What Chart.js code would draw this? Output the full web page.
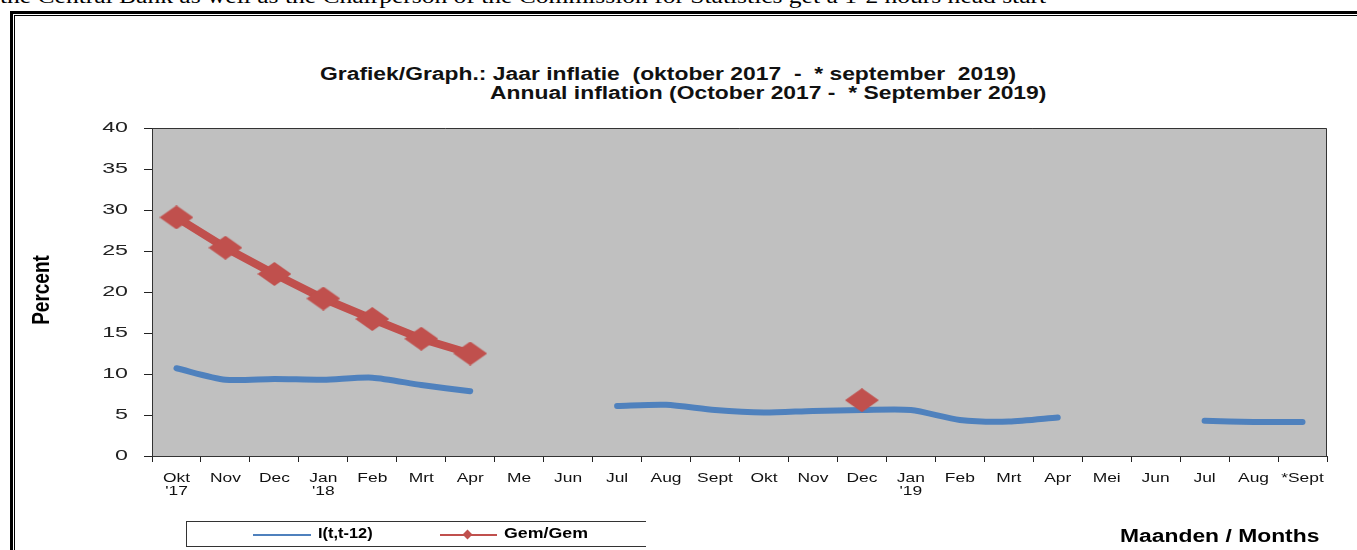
<!DOCTYPE html>
<html>
<head>
<meta charset="utf-8">
<script src="https://cdn.jsdelivr.net/npm/chart.js@4/dist/chart.umd.min.js"></script>
<style>
  html, body { margin: 0; padding: 0; background: #fff; overflow: hidden; }
  body { width: 1357px; height: 550px; position: relative; }
  .abs { position: absolute; white-space: pre; transform-origin: 0 50%; }
  #topline { left: 0; top: -17px; font: 22px "Liberation Serif", "Times New Roman", serif; color: #000; transform: scaleX(1.16); }
  #frameOuter { left: 10px; top: 11px; width: 1400px; height: 600px; border-left: 3px solid #000; border-top: 3px solid #000; }
  #frameInner { left: 14px; top: 15px; width: 1400px; height: 600px; border-left: 1px solid #000; border-top: 1px solid #000; }
  .ttl { font: bold 18px "Liberation Sans", Arial, sans-serif; color: #111; line-height: 19px; transform: scaleX(1.27); }
  #t1 { left: 320px; top: 65px; }
  #t2 { left: 490px; top: 84px; }
  #chartWrap { left: 0; top: 0; width: 1357px; height: 550px; }
  #legendBox { left: 186px; top: 521px; width: 459px; height: 24px; border-top: 1px solid #333; border-bottom: 1px solid #333; border-left: 1px solid #333; }
  .lgLine { position: absolute; height: 2px; top: 12px; }
  .lgText { position: absolute; top: 3px; font: bold 14px "Liberation Sans", Arial, sans-serif; color: #000; transform-origin: 0 50%; }
  #months { left: 1120px; top: 526px; font: bold 18px "Liberation Sans", Arial, sans-serif; color: #000; transform: scaleX(1.27); }
</style>
</head>
<body>
<div class="abs" id="topline">the Central Bank as well as the Chairperson of the Commission for Statistics get a 1-2 hours head start</div>
<div class="abs" id="frameOuter"></div>
<div class="abs" id="frameInner"></div>
<div class="abs ttl" id="t1">Grafiek/Graph.: Jaar inflatie  (oktober 2017  -  * september  2019)</div>
<div class="abs ttl" id="t2">Annual inflation (October 2017 -  * September 2019)</div>
<div class="abs" id="chartWrap"><canvas id="inflChart" width="1357" height="550"></canvas></div>
<div class="abs" id="legendBox">
  <div class="lgLine" style="left:66px;width:58px;background:#4f81bd;"></div>
  <div class="lgText" style="left:131px;transform:scaleX(1.17);">I(t,t-12)</div>
  <div class="lgLine" style="left:253px;width:57px;background:#c0504d;"></div>
  <div style="position:absolute;left:277px;top:9px;width:7px;height:7px;background:#c0504d;transform:rotate(45deg);"></div>
  <div class="lgText" style="left:317px;transform:scaleX(1.27);">Gem/Gem</div>
</div>
<div class="abs" id="months">Maanden / Months</div>

<script>
	/** data **/
	const months = [['Okt', "'17"], 'Nov', 'Dec', ['Jan', "'18"], 'Feb', 'Mrt', 'Apr', 'Me', 'Jun', 'Jul', 'Aug', 'Sept',
		'Okt', 'Nov', 'Dec', ['Jan', "'19"], 'Feb', 'Mrt', 'Apr', 'Mei', 'Jun', 'Jul', 'Aug', '*Sept'];
	const inflYoY = [10.7, 9.3, 9.4, 9.3, 9.55, 8.65, 7.9, null, null, 6.1, 6.25, 5.6,
		5.3, 5.5, 5.6, 5.6, 4.4, 4.2, 4.7, null, null, 4.3, 4.15, 4.15];
	const inflAvg = [29.1, 25.4, 22.2, 19.2, 16.7, 14.3, 12.5, null, null, null, null, null,
		null, null, 6.8, null, null, null, null, null, null, null, null, null];
	const yTicks = [0, 5, 10, 15, 20, 25, 30, 35, 40];
	const yTitle = 'Percent';

	/** common **/
	const blue = '#4f81bd';
	const red = '#c0504d';
	const fontFam = '"Liberation Sans", Arial, sans-serif';

	// flat diamond marker like the excel one
	const diamond = document.createElement('canvas');
	diamond.width = 34;
	diamond.height = 24;
	let dctx = diamond.getContext('2d');
	dctx.fillStyle = red;
	dctx.beginPath();
	dctx.moveTo(17, 0);
	dctx.lineTo(34, 12);
	dctx.lineTo(17, 24);
	dctx.lineTo(0, 12);
	dctx.closePath();
	dctx.fill();

	const plotArea = {
		id: 'plotArea',
		beforeDraw(chart) {
			const a = chart.chartArea, c = chart.ctx;
			c.save();
			c.fillStyle = '#c0c0c0';
			c.fillRect(a.left, a.top, a.right - a.left, a.bottom - a.top);
			c.restore();
		},
		afterDraw(chart) {
			const a = chart.chartArea, c = chart.ctx;
			c.save();
			c.strokeStyle = '#333';
			c.lineWidth = 1;
			c.beginPath();
			c.moveTo(a.left, a.top + 0.5);
			c.lineTo(a.right - 0.5, a.top + 0.5);
			c.lineTo(a.right - 0.5, a.bottom);
			c.stroke();
			c.restore();
		}
	};

	// the source picture is stretched sideways, so labels are drawn wide
	const wideLabels = {
		id: 'wideLabels',
		afterDraw(chart) {
			const c = chart.ctx, xs = chart.scales.x, ys = chart.scales.y;
			c.save();
			c.textBaseline = 'middle';

			c.fillStyle = '#111';
			c.font = '12px ' + fontFam;
			c.textAlign = 'center';
			months.forEach((m, i) => {
				const x = xs.getPixelForTick(i);
				[].concat(m).forEach((line, k) => {
					c.save();
					c.translate(x, xs.top + 23 + k * 13);
					c.scale(1.45, 1);
					c.fillText(line, 0, 0);
					c.restore();
				});
			});

			c.fillStyle = '#222';
			c.font = '15px ' + fontFam;
			c.textAlign = 'right';
			yTicks.forEach(v => {
				c.save();
				c.translate(ys.right - 24, ys.getPixelForValue(v));
				c.scale(1.55, 1);
				c.fillText(String(v), 0, 0);
				c.restore();
			});

			c.fillStyle = '#000';
			c.font = 'bold 19px ' + fontFam;
			c.textAlign = 'center';
			c.translate(42, (ys.top + ys.bottom) / 2 - 2);
			c.rotate(-Math.PI / 2);
			c.scale(1, 1.27);
			c.fillText(yTitle, 0, 0);
			c.restore();
		}
	};

	let inflChart = new Chart(document.getElementById('inflChart'), {
		type: 'line',
		data: {
			labels: months,
			datasets: [{
				label: 'I(t,t-12)',
				data: inflYoY,
				borderColor: blue,
				backgroundColor: blue,
				borderWidth: 6,
				borderCapStyle: 'round',
				borderJoinStyle: 'round',
				pointRadius: 0,
				tension: 0.25,
				spanGaps: false,
				order: 1
			}, {
				label: 'Gem/Gem',
				data: inflAvg,
				borderColor: red,
				backgroundColor: red,
				borderWidth: 8,
				pointStyle: diamond,
				pointRadius: 12,
				tension: 0,
				spanGaps: false,
				order: 0
			}]
		},
		options: {
			responsive: false,
			animation: false,
			devicePixelRatio: 1,
			layout: { padding: { left: 28, top: 128, right: 30, bottom: 0 } },
			plugins: { legend: { display: false }, title: { display: false }, tooltip: { enabled: false } },
			scales: {
				x: {
					offset: true,
					grid: { offset: true, drawOnChartArea: false, tickLength: 6, color: '#222' },
					border: { color: '#333' },
					ticks: { display: false, autoSkip: false },
					afterFit(scale) { scale.height = 94; }
				},
				y: {
					min: 0,
					max: 40,
					afterBuildTicks(scale) { scale.ticks = yTicks.map(v => ({ value: v })); },
					grid: { drawOnChartArea: false, tickLength: 8, color: '#222' },
					border: { color: '#333' },
					ticks: { display: false },
					afterFit(scale) { scale.width = 124; }
				}
			}
		},
		plugins: [plotArea, wideLabels]
	});
</script>
</body>
</html>
